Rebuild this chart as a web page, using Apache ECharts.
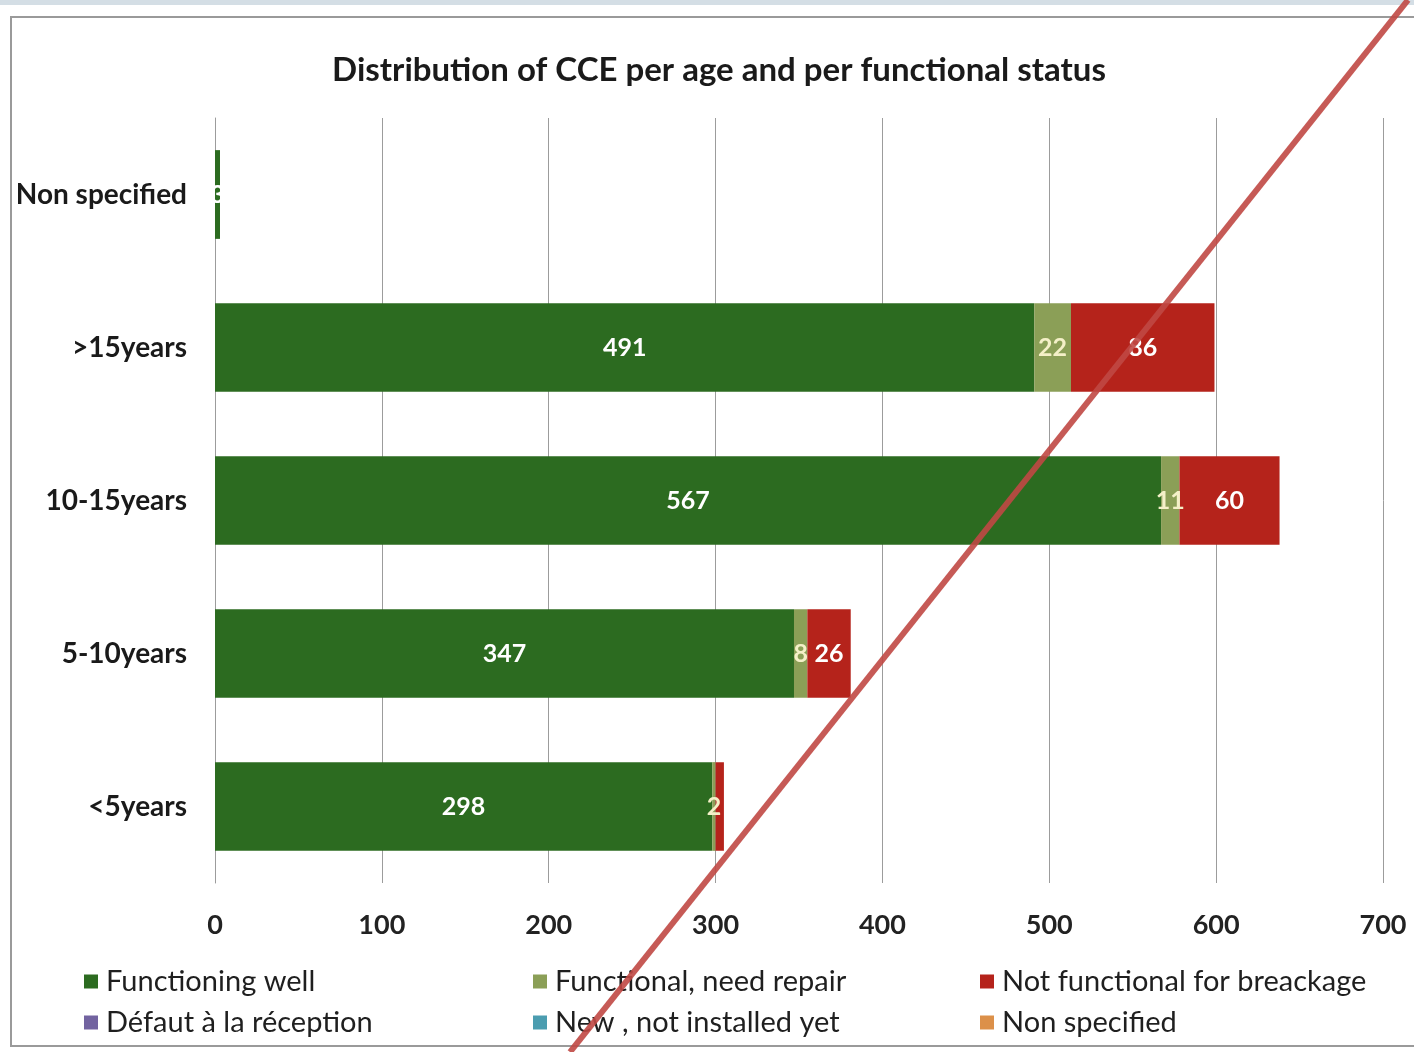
<!DOCTYPE html>
<html>
<head>
<meta charset="utf-8">
<title>Distribution of CCE per age and per functional status</title>
<script src="https://cdn.jsdelivr.net/npm/echarts@6/dist/echarts.min.js"></script>
<style>
  html, body { margin: 0; padding: 0; background: #ffffff; }
  #chart { width: 1414px; height: 1052px; }
</style>
</head>
<body>
<div id="chart"></div>
<script>
// Age groups, listed bottom to top on the category axis
const categories = ['<5years', '5-10years', '10-15years', '>15years', 'Non specified'];

// Cold chain equipment counts per functional status
const functioningWell   = [298, 347, 567, 491, 3];
const needRepair        = [2, 8, 11, 22, 0];
const notFunctional     = [5, 26, 60, 86, 0];
const defautReception   = [0, 0, 0, 0, 0];
const newNotInstalled   = [0, 0, 0, 0, 0];
const statusUnspecified = [0, 0, 0, 0, 0];

const seriesNames = [
  'Functioning well', 'Functional, need repair', 'Not functional for breackage',
  'Défaut à la réception', 'New , not installed yet', 'Non specified'
];
const seriesData = [functioningWell, needRepair, notFunctional, defautReception, newNotInstalled, statusUnspecified];
const seriesColors = ['#2c6b20', '#8b9f57', '#b5231b', '#7263a0', '#4b9db0', '#dc9049'];

const xTicks = { min: 0, max: 700, interval: 100 };

const FONT = 'Lato, "Open Sans", sans-serif';

const labelColors = ['#ffffff', '#f4f0c8', '#ffffff'];

const series = seriesData.map((data, i) => ({
  name: seriesNames[i],
  type: 'bar',
  stack: 'total',
  barCategoryGap: '42%',
  data: data,
  itemStyle: { color: seriesColors[i] },
  label: {
    show: i < 3,
    position: 'inside',
    color: labelColors[i] || '#fff',
    fontFamily: FONT,
    fontSize: 25,
    fontWeight: 'bold',
    formatter: p => (i === 2 && p.value < 10) ? '' : (p.value > 0 ? String(p.value) : '')
  }
}));

// Legend laid out as two rows of three entries
const legendPos = [
  [84, 967], [533, 967], [980, 967],
  [84, 1008], [533, 1008], [980, 1008]
];
const legends = seriesNames.map((name, i) => ({
  data: [name],
  left: legendPos[i][0],
  top: legendPos[i][1],
  icon: 'rect',
  itemWidth: 14,
  itemHeight: 14,
  itemGap: 0,
  padding: 0,
  selectedMode: false,
  textStyle: { fontFamily: FONT, fontSize: 29, color: '#1f1f1f', padding: [0, 0, 0, 3] }
}));

const chart = echarts.init(document.getElementById('chart'), null, { renderer: 'canvas' });
chart.setOption({
  backgroundColor: '#ffffff',
  animation: false,
  title: {
    text: 'Distribution of CCE per age and per functional status',
    left: 714,
    textAlign: 'center',
    top: 49,
    textStyle: { fontFamily: FONT, fontSize: 33, fontWeight: 'bold', color: '#1a1a1a' }
  },
  legend: legends,
  grid: { left: 215, right: 31, top: 118, bottom: 169, containLabel: false },
  xAxis: {
    type: 'value',
    min: xTicks.min,
    max: xTicks.max,
    interval: xTicks.interval,
    axisLine: { show: false },
    axisTick: { show: false },
    splitLine: { show: true, lineStyle: { color: '#9c9c9c', width: 1 } },
    axisLabel: { fontFamily: FONT, fontSize: 27, fontWeight: 'bold', color: '#222', margin: 29 }
  },
  yAxis: {
    type: 'category',
    data: categories,
    axisLine: { show: true, lineStyle: { color: '#9c9c9c', width: 1 } },
    axisTick: { show: false },
    axisLabel: { fontFamily: FONT, fontSize: 28, fontWeight: 'bold', color: '#1a1a1a', margin: 28 }
  },
  series: series,
  graphic: [
    { type: 'rect', z: -10, shape: { x: 0, y: 0, width: 1414, height: 5 }, style: { fill: '#d4dee5' } },
    { type: 'rect', z: -10, shape: { x: 11, y: 17, width: 1420, height: 1029 },
      style: { fill: 'none', stroke: '#9a9a9a', lineWidth: 2 } },
    { type: 'line', z: 100, shape: { x1: 1408, y1: 0, x2: 570, y2: 1052 },
      style: { stroke: 'rgba(192,72,68,0.9)', lineWidth: 6 } }
  ]
});
</script>
</body>
</html>
